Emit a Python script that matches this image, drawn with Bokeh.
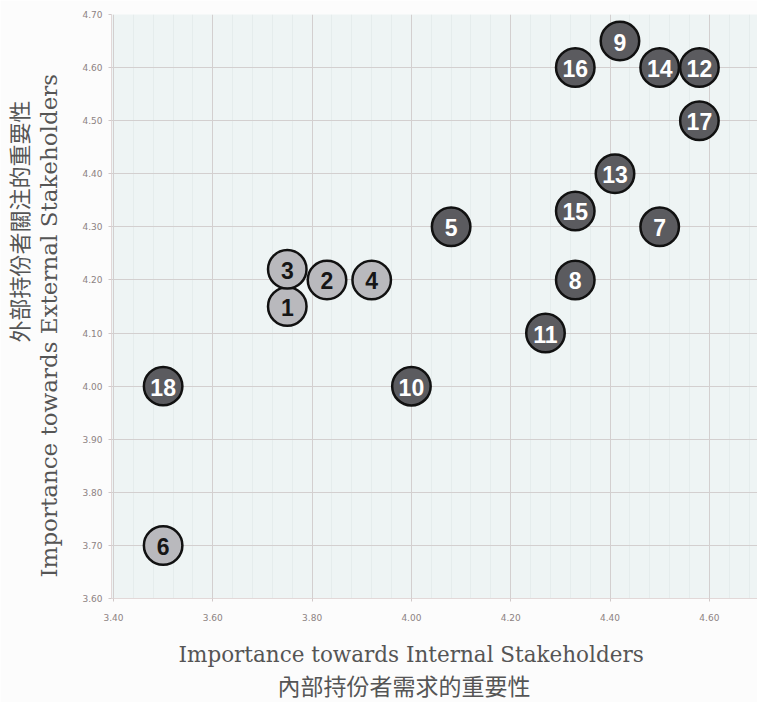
from bokeh.plotting import figure
from bokeh.models import (FixedTicker, Range1d, ColumnDataSource,
                          NumeralTickFormatter, Title)
from bokeh.core.properties import value
from bokeh.embed import file_html
from bokeh.resources import INLINE

# ---- data ----
ids = ["1", "2", "3", "4", "5", "6", "7", "8", "9", "10",
       "11", "12", "13", "14", "15", "16", "17", "18"]
internal = [3.75, 3.83, 3.75, 3.92, 4.08, 3.50, 4.50, 4.33, 4.42, 4.00,
            4.27, 4.58, 4.41, 4.50, 4.33, 4.33, 4.58, 3.50]
external = [4.15, 4.20, 4.22, 4.20, 4.30, 3.70, 4.30, 4.20, 4.65, 4.00,
            4.10, 4.60, 4.40, 4.60, 4.33, 4.60, 4.50, 4.00]
group = ["light", "light", "light", "light", "dark", "light", "dark", "dark", "dark", "dark",
         "dark", "dark", "dark", "dark", "dark", "dark", "dark", "dark"]
x_ticks = [3.40, 3.60, 3.80, 4.00, 4.20, 4.40, 4.60]
x_minor = [3.44, 3.48, 3.52, 3.56, 3.64, 3.68, 3.72, 3.76, 3.84, 3.88, 3.92, 3.96,
           4.04, 4.08, 4.12, 4.16, 4.24, 4.28, 4.32, 4.36, 4.44, 4.48, 4.52, 4.56,
           4.64, 4.68]
y_ticks = [3.60, 3.70, 3.80, 3.90, 4.00, 4.10, 4.20, 4.30, 4.40, 4.50, 4.60, 4.70]

x_label_en = "Importance towards Internal Stakeholders"
x_label_zh = "內部持份者需求的重要性"
y_label_en = "Importance towards External Stakeholders"
y_label_zh = "外部持份者關注的重要性"

fill_map = {"light": "#b9b9bd", "dark": "#5b5b5f"}
text_map = {"light": "#161616", "dark": "#ffffff"}

src = ColumnDataSource(dict(
    x=internal, y=external, label=ids,
    fill=[fill_map[g] for g in group],
    tcol=[text_map[g] for g in group],
))

p = figure(width=757, height=702, output_backend="svg", toolbar_location=None,
           x_range=Range1d(3.396, 4.697), y_range=Range1d(3.60, 4.70),
           min_border_left=111, min_border_top=14, min_border_right=0,
           min_border_bottom=104)
p.background_fill_color = "#eef4f4"
p.border_fill_color = "#fcfcfc"
p.outline_line_color = None

# grids
p.xgrid.ticker = FixedTicker(ticks=x_ticks, minor_ticks=x_minor)
p.ygrid.ticker = FixedTicker(ticks=y_ticks)
for g in (p.xgrid, p.ygrid):
    g.grid_line_color = "#d3cfcf"
    g.grid_line_width = 1
p.xgrid.minor_grid_line_color = "#e5ecec"
p.xgrid.minor_grid_line_width = 1

# axes (ticks only)
xa = p.xaxis[0]
ya = p.yaxis[0]
xa.ticker = FixedTicker(ticks=x_ticks)
ya.ticker = FixedTicker(ticks=y_ticks)
for a in (xa, ya):
    a.formatter = NumeralTickFormatter(format="0.00")
    a.axis_line_color = "#e2d8d8"
    a.major_tick_line_color = "#d0c8c8"
    a.minor_tick_line_color = None
    a.major_tick_out = 3
    a.major_tick_in = 0
    a.major_label_text_font = "DejaVu Sans"
    a.major_label_text_font_size = "9px"
    a.major_label_text_color = "#8c8282"
xa.major_label_standoff = 12
ya.major_label_standoff = 6

# axis titles as side-panel titles
def add_title(text, side, align, offset, standoff, font, size):
    t = Title(text=text, align=align, offset=offset, standoff=standoff,
              vertical_align="middle", text_font=font, text_font_size=size,
              text_font_style="normal", text_color="#555555")
    p.add_layout(t, side)

add_title(x_label_en, "below", "left", 67, 34, "DejaVu Serif", "21.5px")
add_title(x_label_zh, "below", "left", 166, -45, "Noto Sans CJK TC", "23px")
add_title(y_label_en, "left", "left", 21, 34, "DejaVu Serif", "23px")
add_title(y_label_zh, "left", "right", 86, -45, "Noto Sans CJK TC", "22px")

# bubbles
p.scatter("x", "y", source=src, size=38.5, fill_color="fill", line_color="#111111",
          line_width=2.5)
p.text("x", "y", text="label", source=src, text_color="tcol",
       text_font=value("Liberation Sans"), text_font_style="bold",
       text_font_size="23px", text_align="center", text_baseline="middle",
       y_offset=1)

open("out.html", "w").write(file_html(p, INLINE))
